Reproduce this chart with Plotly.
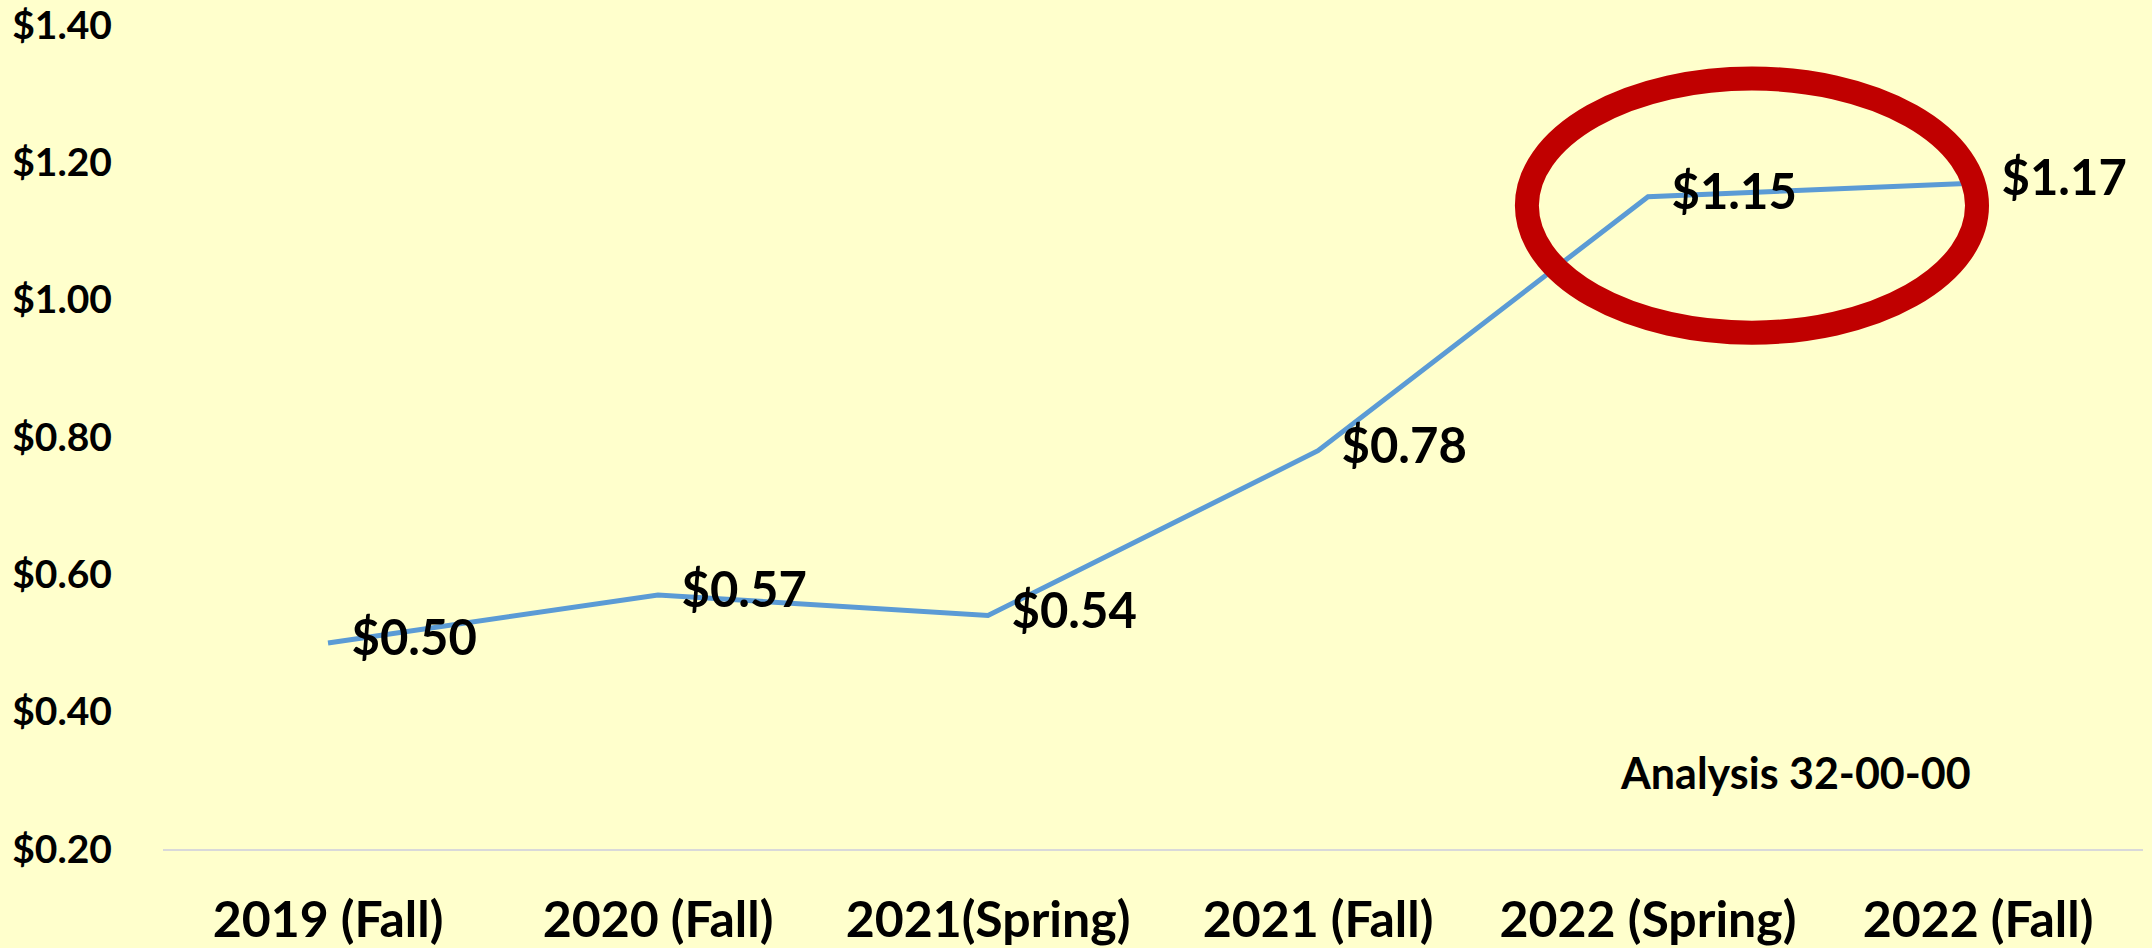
import plotly.graph_objects as go

# datos del gráfico
periodos = ["2019 (Fall)", "2020 (Fall)", "2021(Spring)", "2021 (Fall)", "2022 (Spring)", "2022 (Fall)"]
costo = [0.50, 0.57, 0.54, 0.78, 1.15, 1.17]
y_ticks = [0.20, 0.40, 0.60, 0.80, 1.00, 1.20, 1.40]

FONT = "Lato, 'Open Sans', sans-serif"

fig = go.Figure()

fig.add_trace(go.Scatter(
    x=periodos, y=costo,
    mode="lines+markers+text",
    line=dict(color="#5B9BD5", width=5),
    marker=dict(size=36, color="rgba(0,0,0,0)"),
    texttemplate="$%{y:.2f}",
    textposition="middle right",
    textfont=dict(family=FONT, size=49, color="#000000", weight="bold"),
    hoverinfo="skip",
    showlegend=False,
))

# óvalo rojo resaltando 2022
fig.add_shape(
    type="circle", xref="x", yref="y",
    x0=3.633, x1=4.997, y0=0.952, y1=1.322,
    line=dict(color="#C00000", width=24),
    layer="above",
)

fig.add_annotation(
    text="<b>Analysis 32-00-00</b>",
    xref="paper", yref="paper", x=0.8247, y=0.0934,
    xanchor="center", yanchor="middle", showarrow=False,
    font=dict(family=FONT, size=43, color="#000000"),
)

fig.update_xaxes(
    type="category", range=[-0.5, 5.5], automargin=False,
    showgrid=False, zeroline=False,
    showline=True, linecolor="#D9D9D9", linewidth=2,
    tickfont=dict(family=FONT, size=50, color="#000000", weight="bold"),
    ticks="", ticklabelstandoff=26,
)
fig.update_yaxes(
    range=[0.2, 1.4], automargin=False,
    tickvals=y_ticks, tickformat="$.2f",
    showgrid=False, zeroline=False, showline=False,
    tickfont=dict(family=FONT, size=39, color="#000000", weight="bold"),
    ticks="", ticklabelstandoff=50,
)

fig.update_layout(
    width=2152, height=948,
    paper_bgcolor="#FFFFCC",
    plot_bgcolor="#FFFFCC",
    margin=dict(l=163, r=9, t=25, b=99, autoexpand=False),
    showlegend=False,
)

# quitar el margen por defecto del <body> para que el gráfico ocupe toda la ventana
fig.write_html("out.html", config={"displayModeBar": False},
               post_script="document.body.style.margin='0';")
